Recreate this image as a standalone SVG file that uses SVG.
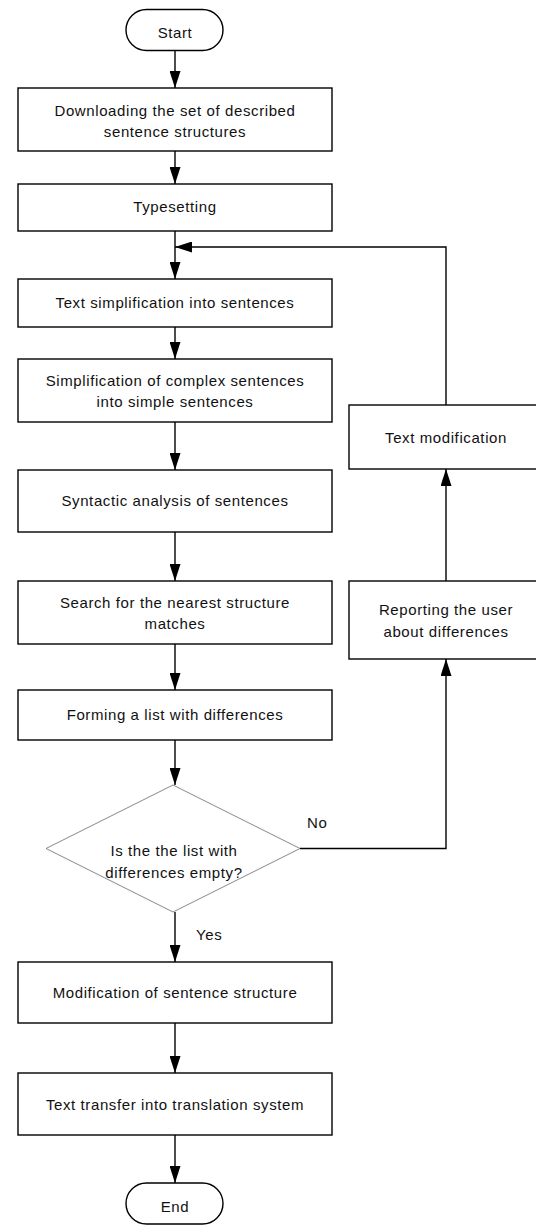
<svg xmlns="http://www.w3.org/2000/svg" width="536" height="1227" viewBox="0 0 536 1227">
<style>
  .box { fill: #fff; stroke: #000; stroke-width: 1.4; }
  .dia { fill: #fff; stroke: #888; stroke-width: 1; }
  .t { font-family: "Liberation Sans", Arial, sans-serif; font-size: 15px; letter-spacing: 0.6px; fill: #111; text-anchor: middle; }
  .lbl { font-family: "Liberation Sans", Arial, sans-serif; font-size: 15px; letter-spacing: 0.6px; fill: #111; }
  .con { fill: none; stroke: #000; stroke-width: 1.4; }
</style>
<defs>
  <marker id="ah" viewBox="0 0 17 11" refX="17" refY="5.5" markerWidth="17" markerHeight="11" markerUnits="userSpaceOnUse" orient="auto">
    <path d="M0,0 L17,5.5 L0,11 z" fill="#000"/>
  </marker>
</defs>
<rect width="536" height="1227" fill="#fff"/>

<g id="connectors">
  <path class="con" d="M175,51 V88" marker-end="url(#ah)"/>
  <path class="con" d="M175,151 V184" marker-end="url(#ah)"/>
  <path class="con" d="M175,231 V279" marker-end="url(#ah)"/>
  <path class="con" d="M175,327 V359" marker-end="url(#ah)"/>
  <path class="con" d="M175,422 V470" marker-end="url(#ah)"/>
  <path class="con" d="M175,532 V581" marker-end="url(#ah)"/>
  <path class="con" d="M175,644 V690" marker-end="url(#ah)"/>
  <path class="con" d="M175,740 V785" marker-end="url(#ah)"/>
  <path class="con" d="M175,912 V962" marker-end="url(#ah)"/>
  <path class="con" d="M175,1023 V1073" marker-end="url(#ah)"/>
  <path class="con" d="M175,1135 V1183" marker-end="url(#ah)"/>
  <path class="con" d="M300,848.5 H446 V659" marker-end="url(#ah)"/>
  <path class="con" d="M446,581 V469" marker-end="url(#ah)"/>
  <path class="con" d="M446,405 V247 H175" marker-end="url(#ah)"/>
  <text class="lbl" x="307" y="828">No</text>
  <text class="lbl" x="196" y="940">Yes</text>
</g>

<g id="start">
  <rect class="box" x="126" y="9.5" width="97" height="41" rx="20.5" ry="20.5"/>
  <text class="t" x="175" y="38">Start</text>
</g>
<g id="download">
  <rect class="box" x="18" y="88" width="314" height="63"/>
  <text class="t" x="175" y="116">Downloading the set of described</text>
  <text class="t" x="175" y="137">sentence structures</text>
</g>
<g id="typesetting">
  <rect class="box" x="18" y="184" width="314" height="47"/>
  <text class="t" x="175" y="212">Typesetting</text>
</g>
<g id="simplify-text">
  <rect class="box" x="18" y="279" width="314" height="48"/>
  <text class="t" x="175" y="308">Text simplification into sentences</text>
</g>
<g id="simplify-complex">
  <rect class="box" x="18" y="359" width="314" height="63"/>
  <text class="t" x="175" y="386">Simplification of complex sentences</text>
  <text class="t" x="175" y="407">into simple sentences</text>
</g>
<g id="syntactic">
  <rect class="box" x="18" y="470" width="314" height="62"/>
  <text class="t" x="175" y="506">Syntactic analysis of sentences</text>
</g>
<g id="search">
  <rect class="box" x="18" y="581" width="314" height="63"/>
  <text class="t" x="175" y="608">Search for the nearest structure</text>
  <text class="t" x="175" y="629">matches</text>
</g>
<g id="forming">
  <rect class="box" x="18" y="690" width="314" height="50"/>
  <text class="t" x="175" y="720">Forming a list with differences</text>
</g>
<g id="decision">
  <polygon class="dia" points="173,785 300,848.5 173,912 46,848.5"/>
  <text class="t" x="174" y="856">Is the the list with</text>
  <text class="t" x="174" y="878">differences empty?</text>
</g>
<g id="modify-structure">
  <rect class="box" x="18" y="962" width="314" height="61"/>
  <text class="t" x="175" y="998">Modification of sentence structure</text>
</g>
<g id="transfer">
  <rect class="box" x="18" y="1073" width="314" height="62"/>
  <text class="t" x="175" y="1110">Text transfer into translation system</text>
</g>
<g id="end">
  <rect class="box" x="126" y="1183" width="97" height="41" rx="20.5" ry="20.5"/>
  <text class="t" x="175" y="1212">End</text>
</g>
<g id="text-modification">
  <rect class="box" x="349" y="405" width="194" height="64"/>
  <text class="t" x="446" y="443">Text modification</text>
</g>
<g id="reporting">
  <rect class="box" x="349" y="581" width="194" height="78"/>
  <text class="t" x="446" y="615">Reporting the user</text>
  <text class="t" x="446" y="637">about differences</text>
</g>
</svg>
